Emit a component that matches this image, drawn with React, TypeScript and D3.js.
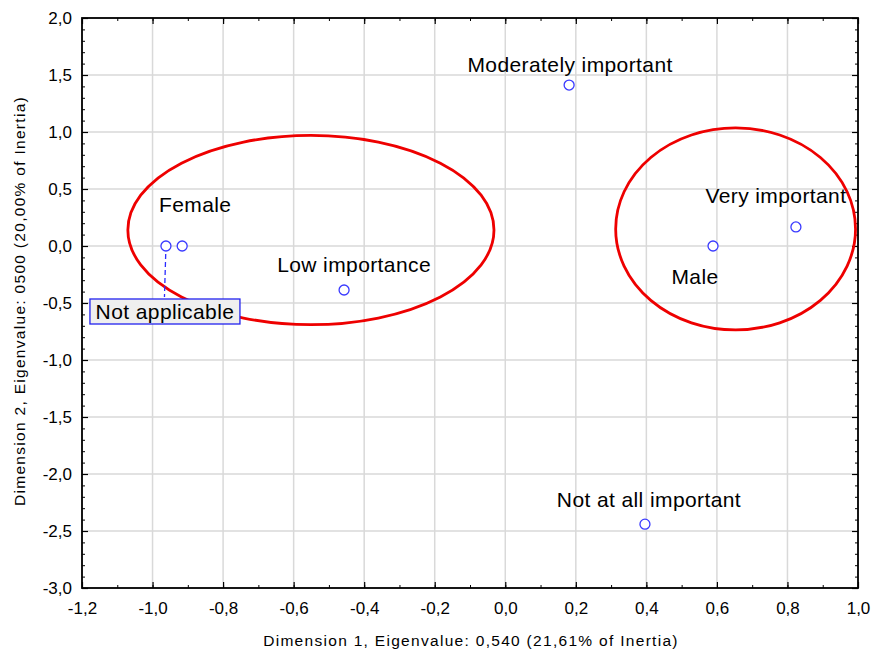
import { useEffect, useRef } from "react";
import * as d3 from "d3";

// point coordinates
const labels = [
  "Not applicable",
  "Female",
  "Low importance",
  "Moderately important",
  "Male",
  "Very important",
  "Not at all important",
];
const dim1 = [-0.962, -0.916, -0.457, 0.181, 0.589, 0.824, 0.396];
const dim2 = [0.0, 0.0, -0.386, 1.412, 0.0, 0.167, -2.44];

const xTicks = [-1.2, -1.0, -0.8, -0.6, -0.4, -0.2, 0.0, 0.2, 0.4, 0.6, 0.8, 1.0];
const yTicks = [2.0, 1.5, 1.0, 0.5, 0.0, -0.5, -1.0, -1.5, -2.0, -2.5, -3.0];

// grouping ellipses: centre x, centre y, radius x, radius y (data units)
const ellipseCx = [-0.551, 0.653];
const ellipseCy = [0.14, 0.15];
const ellipseRx = [0.519, 0.34];
const ellipseRy = [0.83, 0.886];

const fmt = (v: number) => d3.format(".1f")(v).replace(".", ",").replace("−", "-");

export default function App() {
  const svgRef = useRef<SVGSVGElement>(null);

  useEffect(() => {
    if (!svgRef.current) return;
    const width = 877;
    const height = 657;
    const margin = { top: 18, right: 19, bottom: 69, left: 82 };
    const innerW = width - margin.left - margin.right;
    const innerH = height - margin.top - margin.bottom;
    const font = "'Liberation Sans', Arial, sans-serif";

    const svg = d3.select(svgRef.current);
    svg.selectAll("*").remove();

    const x = d3.scaleLinear().domain([-1.2, 1.0]).range([0, innerW]);
    const y = d3.scaleLinear().domain([-3.0, 2.0]).range([innerH, 0]);

    const g = svg
      .append("g")
      .attr("transform", `translate(${margin.left},${margin.top})`)
      .style("font-family", font);

    // grid
    g.append("g")
      .selectAll("line")
      .data(xTicks)
      .enter()
      .append("line")
      .attr("x1", (d) => x(d))
      .attr("x2", (d) => x(d))
      .attr("y1", 0)
      .attr("y2", innerH)
      .style("stroke", "#d9d9d9")
      .style("stroke-width", 1.5);
    g.append("g")
      .selectAll("line")
      .data(yTicks)
      .enter()
      .append("line")
      .attr("x1", 0)
      .attr("x2", innerW)
      .attr("y1", (d) => y(d))
      .attr("y2", (d) => y(d))
      .style("stroke", "#d9d9d9")
      .style("stroke-width", 1.5);

    // axes with inward ticks on all four sides
    const xMinor = d3.range(-12, 11).map((i) => i / 10);
    const yMinor = d3.range(-30, 21).map((i) => i / 10);
    const styleAxis = (sel: d3.Selection<SVGGElement, unknown, null, undefined>) => {
      sel.select(".domain").remove();
      sel.selectAll(".tick line").style("stroke", "#000").style("stroke-width", 1.2);
      sel.selectAll("text").style("font-size", "17px").style("font-family", font).style("fill", "#000");
    };
    const styleMinor = (sel: d3.Selection<SVGGElement, unknown, null, undefined>) => {
      sel.select(".domain").remove();
      sel.selectAll(".tick line").style("stroke", "#000");
    };

    g.append("g")
      .attr("transform", `translate(0,${innerH})`)
      .call(d3.axisBottom(x).tickValues(xTicks).tickFormat((d) => fmt(d as number)).tickSize(-6).tickPadding(14))
      .call(styleAxis);
    g.append("g")
      .attr("transform", `translate(0,${innerH})`)
      .call(d3.axisBottom(x).tickValues(xMinor).tickFormat(() => "").tickSize(-3))
      .call(styleMinor);
    g.append("g")
      .call(d3.axisTop(x).tickValues(xTicks).tickFormat(() => "").tickSize(-6))
      .call(styleAxis);
    g.append("g")
      .call(d3.axisTop(x).tickValues(xMinor).tickFormat(() => "").tickSize(-3))
      .call(styleMinor);

    g.append("g")
      .call(d3.axisLeft(y).tickValues(yTicks).tickFormat((d) => fmt(d as number)).tickSize(-6).tickPadding(10))
      .call(styleAxis);
    g.append("g")
      .call(d3.axisLeft(y).tickValues(yMinor).tickFormat(() => "").tickSize(-3))
      .call(styleMinor);
    g.append("g")
      .attr("transform", `translate(${innerW},0)`)
      .call(d3.axisRight(y).tickValues(yTicks).tickFormat(() => "").tickSize(-6))
      .call(styleAxis);
    g.append("g")
      .attr("transform", `translate(${innerW},0)`)
      .call(d3.axisRight(y).tickValues(yMinor).tickFormat(() => "").tickSize(-3))
      .call(styleMinor);

    // frame
    g.append("rect")
      .attr("width", innerW)
      .attr("height", innerH)
      .style("fill", "none")
      .style("stroke", "#000")
      .style("stroke-width", 1.8);

    // axis titles
    svg
      .append("text")
      .attr("x", 471)
      .attr("y", 646)
      .attr("text-anchor", "middle")
      .style("font-family", font)
      .style("font-size", "15.5px")
      .style("letter-spacing", "1.3px")
      .text("Dimension 1, Eigenvalue: 0,540 (21,61% of Inertia)");
    svg
      .append("text")
      .attr("transform", `translate(25,301) rotate(-90)`)
      .attr("text-anchor", "middle")
      .style("font-family", font)
      .style("font-size", "15.5px")
      .style("letter-spacing", "1.3px")
      .text("Dimension 2, Eigenvalue: 0500 (20,00% of Inertia)");

    // ellipses
    g.append("g")
      .selectAll("ellipse")
      .data(ellipseCx.map((cx, i) => ({ cx, cy: ellipseCy[i], rx: ellipseRx[i], ry: ellipseRy[i] })))
      .enter()
      .append("ellipse")
      .attr("cx", (d) => x(d.cx))
      .attr("cy", (d) => y(d.cy))
      .attr("rx", (d) => x(d.rx) - x(0))
      .attr("ry", (d) => y(0) - y(d.ry))
      .style("fill", "none")
      .style("stroke", "#ee0000")
      .style("stroke-width", 2.8);

    const pts = labels.map((label, i) => ({ label, x: dim1[i], y: dim2[i] }));

    // label offsets in pixels from each point
    const offsets: Record<string, [number, number]> = {
      Female: [13, -34],
      "Low importance": [10, -18],
      "Moderately important": [1, -13],
      Male: [-18, 38],
      "Very important": [-20, -24],
      "Not at all important": [4, -17],
    };

    // callout for Not applicable
    const na = pts[0];
    g.append("line")
      .attr("x1", x(na.x))
      .attr("y1", y(na.y))
      .attr("x2", x(na.x) - 1.5)
      .attr("y2", y(na.y) + 51)
      .style("stroke", "#2b2bff")
      .style("stroke-width", 1.3)
      .style("stroke-dasharray", "5,3");
    const naG = g.append("g").attr("transform", `translate(${x(na.x) - 76},${y(na.y) + 53})`);
    naG
      .append("rect")
      .attr("width", 150)
      .attr("height", 25)
      .style("fill", "#efefef")
      .style("stroke", "#2222ee")
      .style("stroke-width", 1.3);
    naG
      .append("text")
      .attr("x", 75)
      .attr("y", 20)
      .attr("text-anchor", "middle")
      .style("font-size", "21px")
      .style("letter-spacing", "0.4px")
      .style("fill", "#000")
      .text(na.label);

    // point labels
    g.append("g")
      .selectAll("text")
      .data(pts.slice(1))
      .enter()
      .append("text")
      .attr("x", (d) => x(d.x) + offsets[d.label][0])
      .attr("y", (d) => y(d.y) + offsets[d.label][1])
      .attr("text-anchor", "middle")
      .style("font-size", "21px")
      .style("letter-spacing", "0.4px")
      .style("fill", "#000")
      .text((d) => d.label);

    // points
    g.append("g")
      .selectAll("circle")
      .data(pts)
      .enter()
      .append("circle")
      .attr("cx", (d) => x(d.x))
      .attr("cy", (d) => y(d.y))
      .attr("r", 5)
      .style("fill", "#fff")
      .style("stroke", "#3a3aff")
      .style("stroke-width", 1.3);
  }, []);

  return (
    <svg
      ref={svgRef}
      width={877}
      height={657}
      style={{ position: "absolute", left: 0, top: 0, background: "#fff" }}
    />
  );
}
